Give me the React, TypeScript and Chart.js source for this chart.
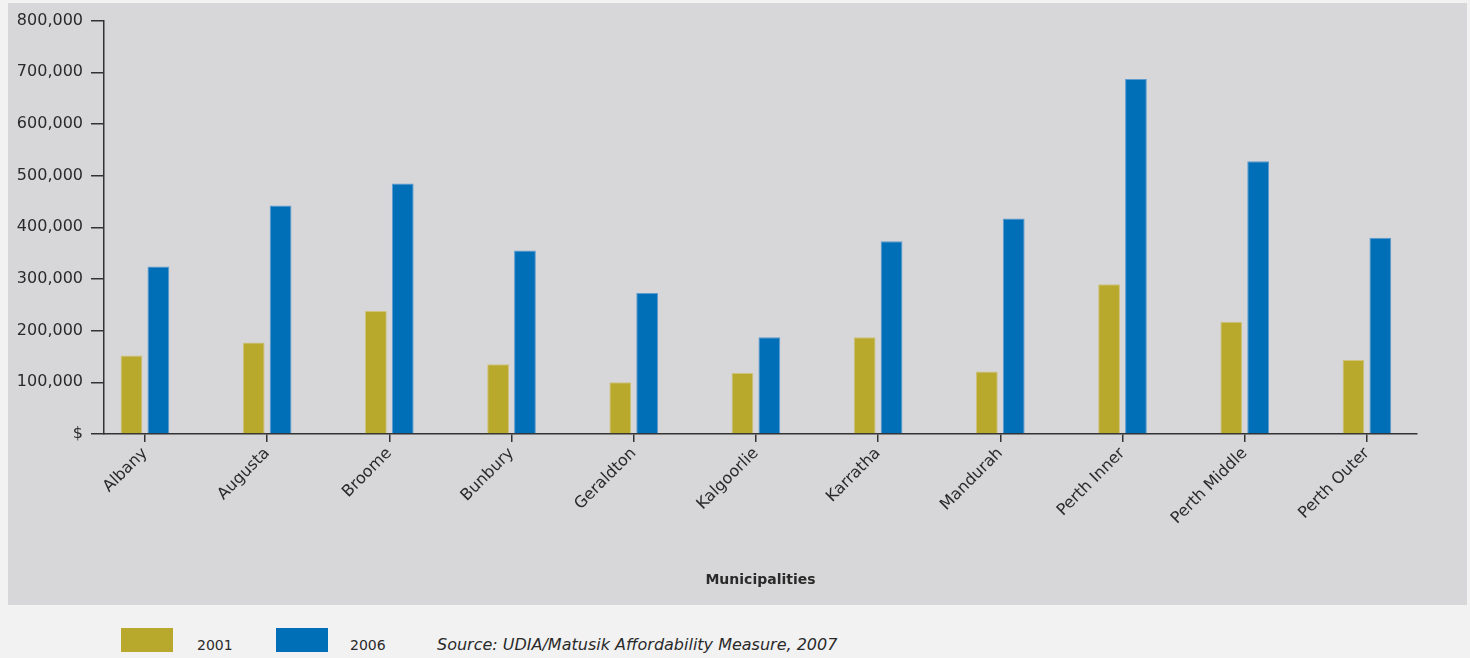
import React, { useEffect, useRef } from "react";
import { Chart, registerables } from "chart.js";

Chart.register(...registerables);

const categories = [
  "Albany",
  "Augusta",
  "Broome",
  "Bunbury",
  "Geraldton",
  "Kalgoorlie",
  "Karratha",
  "Mandurah",
  "Perth Inner",
  "Perth Middle",
  "Perth Outer",
];
const values2001 = [152000, 177000, 238000, 135000, 100000, 118000, 187000, 121000, 290000, 217000, 143000];
const values2006 = [324000, 442000, 485000, 355000, 273000, 187000, 373000, 417000, 687000, 528000, 380000];
const seriesLabels = ["2001", "2006"];
const yMax = 800000;
const yStep = 100000;
const xTitle = "Municipalities";
const sourceNote = "Source: UDIA/Matusik Affordability Measure, 2007";

const GOLD = "#b8a82c";
const BLUE = "#006fb8";
const AXIS = "#333333";
const TEXT = "#2a2a2a";
const FONT = "'DejaVu Sans', sans-serif";

export default function App() {
  const ref = useRef<HTMLCanvasElement | null>(null);

  useEffect(() => {
    if (!ref.current) return;
    const chart = new Chart(ref.current, {
      type: "bar",
      data: {
        datasets: [
          {
            label: seriesLabels[0],
            data: values2001.map((v, i) => ({ x: i, y: v })),
            backgroundColor: GOLD,
            borderColor: "#cfc27a",
            borderWidth: 1,
            categoryPercentage: 0.44,
            barPercentage: 0.81,
          },
          {
            label: seriesLabels[1],
            data: values2006.map((v, i) => ({ x: i, y: v })),
            backgroundColor: BLUE,
            borderColor: "#5b9bd0",
            borderWidth: 1,
            categoryPercentage: 0.44,
            barPercentage: 0.81,
          },
        ],
      },
      options: {
        animation: false,
        responsive: false,
        maintainAspectRatio: false,
        layout: { padding: { left: 0, top: 17, right: 50, bottom: 16 } },
        plugins: {
          legend: { display: false },
          tooltip: { enabled: false },
        },
        scales: {
          x: {
            type: "linear",
            min: -0.335,
            max: 10.41,
            bounds: "data",
            offset: false,
            grid: {
              offset: false,
              display: true,
              drawOnChartArea: false,
              drawTicks: true,
              tickLength: 8,
              color: AXIS,
              lineWidth: 1.5,
            },
            border: { display: true, color: AXIS, width: 1.5 },
            ticks: {
              autoSkip: false,
              minRotation: 45,
              maxRotation: 45,
              padding: 2,
              color: TEXT,
              font: { family: FONT, size: 16 },
              callback: (v: any) => {
                const i = Math.round(Number(v));
                return categories[i] ?? "";
              },
            },
            afterBuildTicks: (s: any) => {
              s.ticks = categories.map((_, i) => ({ value: i }));
            },
            title: {
              display: true,
              text: xTitle,
              color: TEXT,
              font: { family: FONT, size: 14, weight: "bold" },
              padding: 0,
            },
            afterFit: (s: any) => {
              s.height = 155;
            },
          },
          y: {
            type: "linear",
            min: 0,
            max: yMax,
            grid: {
              display: true,
              drawOnChartArea: false,
              drawTicks: true,
              tickLength: 13,
              color: AXIS,
              lineWidth: 1.5,
            },
            border: { display: true, color: AXIS, width: 1.5 },
            ticks: {
              stepSize: yStep,
              padding: 8,
              color: TEXT,
              font: { family: FONT, size: 16 },
              callback: (v: any) => (Number(v) === 0 ? "$" : Number(v).toLocaleString("en-US")),
            },
            afterFit: (s: any) => {
              s.width = 96;
            },
          },
        },
      },
    });
    return () => chart.destroy();
  }, []);

  const legendText: React.CSSProperties = {
    position: "absolute",
    fontFamily: FONT,
    fontSize: 14,
    color: TEXT,
    top: 635,
    lineHeight: "20px",
  };

  return (
    <div
      style={{
        position: "fixed",
        left: 0,
        top: 0,
        width: 1470,
        height: 658,
        background: "#f2f2f2",
        overflow: "hidden",
      }}
    >
      <div
        style={{
          position: "absolute",
          left: 8,
          top: 3,
          width: 1459,
          height: 602,
          background: "#d7d7d9",
        }}
      >
        <canvas ref={ref} width={1459} height={602} style={{ width: 1459, height: 602, display: "block" }} />
      </div>
      <div style={{ position: "absolute", left: 121, top: 628, width: 52, height: 24, background: GOLD }} />
      <div style={{ ...legendText, left: 197 }}>{seriesLabels[0]}</div>
      <div style={{ position: "absolute", left: 276, top: 628, width: 52, height: 24, background: BLUE }} />
      <div style={{ ...legendText, left: 350 }}>{seriesLabels[1]}</div>
      <div style={{ ...legendText, left: 437, fontStyle: "italic", fontSize: 16 }}>{sourceNote}</div>
    </div>
  );
}
